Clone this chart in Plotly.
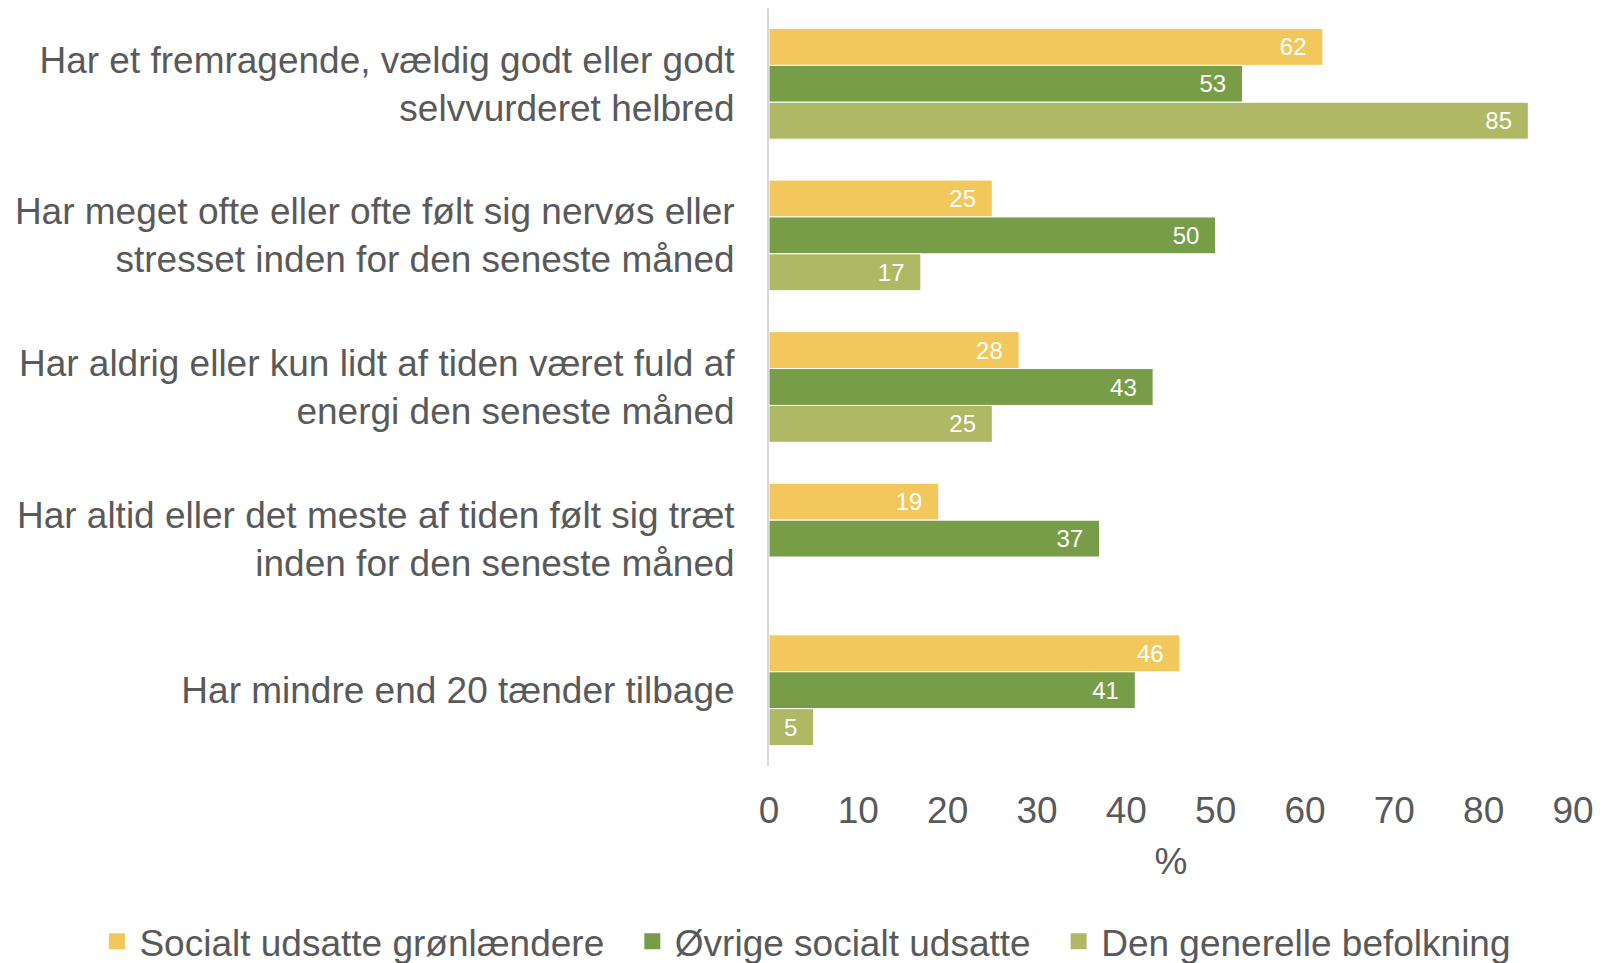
import plotly.graph_objects as go

categories = [
    "Har et fremragende, vældig godt eller godt<br>selvvurderet helbred",
    "Har meget ofte eller ofte følt sig nervøs eller<br>stresset inden for den seneste måned",
    "Har aldrig eller kun lidt af tiden været fuld af<br>energi den seneste måned",
    "Har altid eller det meste af tiden følt sig træt<br>inden for den seneste måned",
    "Har mindre end 20 tænder tilbage",
]
series_names = ["Socialt udsatte grønlændere", "Øvrige socialt udsatte", "Den generelle befolkning"]
groenlaendere = [62, 25, 28, 19, 46]
oevrige = [53, 50, 43, 37, 41]
generelle = [85, 17, 25, None, 5]
colors = ["#F2C85C", "#789D48", "#AFB864"]
x_ticks = [0, 10, 20, 30, 40, 50, 60, 70, 80, 90]

FONT = "Liberation Sans, Arial, sans-serif"
GREY = "#595959"

fig = go.Figure()
for name, vals, col in zip(series_names, [groenlaendere, oevrige, generelle], colors):
    fig.add_trace(go.Bar(
        y=categories, x=vals, name=name, orientation="h",
        marker=dict(color=col, line=dict(color="white", width=1)),
        text=[("" if v is None else f"{v}\u00a0\u00a0") for v in vals],
        textposition="inside", insidetextanchor="end",
        textfont=dict(color="white", size=24, family=FONT),
        showlegend=False,
    ))
# legend entries with larger square swatches
for i, (name, col) in enumerate(zip(series_names, colors)):
    pad = "\u00a0\u00a0" if i < len(series_names) - 1 else ""
    fig.add_trace(go.Scatter(
        x=[None], y=[None], mode="markers", name=name + pad,
        marker=dict(symbol="square", size=18, color=col),
        showlegend=True,
    ))

fig.update_layout(
    width=1612, height=963,
    margin=dict(l=761, r=47, t=0, b=205, autoexpand=False),
    barmode="group", bargap=0.27, bargroupgap=0,
    plot_bgcolor="white", paper_bgcolor="white",
    font=dict(family=FONT, color=GREY),
    showlegend=True,
    legend=dict(orientation="h", x=-0.839, xanchor="left",
                y=-0.191, yanchor="top",
                font=dict(size=37, color=GREY, family=FONT),
                itemsizing="trace", itemwidth=35, tracegroupgap=0),
)
fig.update_xaxes(range=[0, 90], tickvals=x_ticks, showgrid=False, zeroline=False,
                 showline=False, tickfont=dict(size=37, color=GREY), automargin=False,
                 ticks="outside", ticklen=12, tickcolor="rgba(0,0,0,0)",
                 title=dict(text="%", font=dict(size=37, color=GREY), standoff=17))
fig.update_yaxes(autorange="reversed", showgrid=False, showline=True, linecolor="#D9D9D9",
                 linewidth=2, tickfont=dict(size=37, color=GREY), automargin=False,
                 ticks="", ticklabelstandoff=25)

fig.write_html("out.html")
